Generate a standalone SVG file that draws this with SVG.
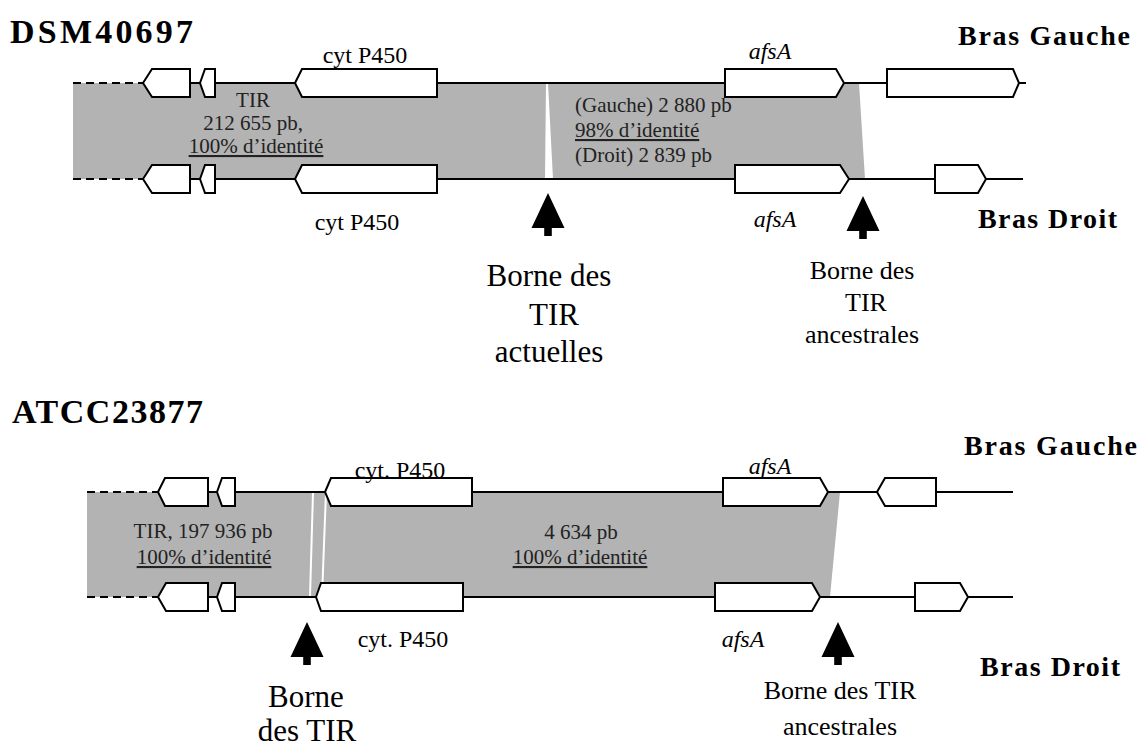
<svg xmlns="http://www.w3.org/2000/svg" width="1141" height="747" viewBox="0 0 1141 747">
<style>
.chr{stroke:#000;stroke-width:2;fill:none}
.dash{stroke:#000;stroke-width:2;stroke-dasharray:8 5;fill:none}
.gene{fill:#fff;stroke:#000;stroke-width:2;stroke-linejoin:miter}
.grey{fill:#b3b3b3}
.gap{stroke:#fff;stroke-width:2}
text{font-family:"Liberation Serif","Times New Roman",serif;fill:#000}
.h{font-weight:bold;font-size:34px}
.arm{font-weight:bold;font-size:28px}
.lab{font-size:21px;fill:#222}
.gl{font-size:24px}
.it{font-style:italic}
.b1{font-size:31px;text-anchor:middle}
.b2{font-size:26px;text-anchor:middle}
.u{text-decoration:underline}
.arrow{fill:#000}
</style>
<defs>
<path id="arr" d="M0,0 L16.5,35 L3.8,35 L3.8,43 L-3.8,43 L-3.8,35 L-16.5,35 Z"/>
</defs>

<g id="titles">
<text class="h" x="10" y="43" textLength="183" lengthAdjust="spacing">DSM40697</text>
<text class="h" x="12" y="423" textLength="191" lengthAdjust="spacing">ATCC23877</text>
<text class="arm" x="958" y="45" textLength="172" lengthAdjust="spacing">Bras Gauche</text>
<text class="arm" x="978" y="228" textLength="139" lengthAdjust="spacing">Bras Droit</text>
<text class="arm" x="964" y="455" textLength="173" lengthAdjust="spacing">Bras Gauche</text>
<text class="arm" x="980" y="676" textLength="140" lengthAdjust="spacing">Bras Droit</text>
</g>

<g id="identity-regions">
<polygon class="grey" points="73,83 859,83 865,179 73,179"/>
<polygon fill="#fff" points="546,83 548,83 553,179 545,179"/>
<polygon class="grey" points="87,492 840,492 830,597 87,597"/>
<line class="gap" x1="313" y1="492" x2="310" y2="597"/>
<line class="gap" x1="326" y1="492" x2="322" y2="597"/>
</g>

<g id="connectors">
<line class="dash" x1="73" y1="83" x2="143" y2="83"/>
<line class="chr" x1="143" y1="83" x2="1026" y2="83"/>
<line class="dash" x1="73" y1="179" x2="143" y2="179"/>
<line class="chr" x1="143" y1="179" x2="1023" y2="179"/>
<line class="dash" x1="87" y1="492" x2="158" y2="492"/>
<line class="chr" x1="158" y1="492" x2="1013" y2="492"/>
<line class="dash" x1="87" y1="597" x2="158" y2="597"/>
<line class="chr" x1="158" y1="597" x2="1013" y2="597"/>
</g>

<g id="dsm-left-arm">
<polygon class="gene" points="143,83 152,69 190,69 190,97 152,97"/>
<polygon class="gene" points="200,83 205,69 215,69 215,97 205,97"/>
<polygon class="gene" points="295,83 302,69 437,69 437,97 302,97"/>
<polygon class="gene" points="725,69 836,69 844,83 836,97 725,97"/>
<polygon class="gene" points="887,69 1013,69 1019,83 1013,97 887,97"/>
</g>

<g id="dsm-right-arm">
<polygon class="gene" points="143,179 152,165 190,165 190,193 152,193"/>
<polygon class="gene" points="200,179 205,165 215,165 215,193 205,193"/>
<polygon class="gene" points="295,179 302,165 437,165 437,193 302,193"/>
<polygon class="gene" points="735,165 840,165 849,179 840,193 735,193"/>
<polygon class="gene" points="935,165 978,165 986,179 978,193 935,193"/>
</g>

<g id="atcc-left-arm">
<polygon class="gene" points="158,492 165,478 208,478 208,506 165,506"/>
<polygon class="gene" points="217,492 222,478 235,478 235,506 222,506"/>
<polygon class="gene" points="325,492 331,478 472,478 472,506 331,506"/>
<polygon class="gene" points="723,478 820,478 828,492 820,506 723,506"/>
<polygon class="gene" points="877,492 885,478 936,478 936,506 885,506"/>
</g>

<g id="atcc-right-arm">
<polygon class="gene" points="158,597 166,583 208,583 208,611 166,611"/>
<polygon class="gene" points="217,597 222,583 235,583 235,611 222,611"/>
<polygon class="gene" points="316,597 321,583 463,583 463,611 321,611"/>
<polygon class="gene" points="715,583 812,583 820,597 812,611 715,611"/>
<polygon class="gene" points="915,583 960,583 968,597 960,611 915,611"/>
</g>

<g id="gene-labels">
<text class="gl" x="365" y="63" text-anchor="middle">cyt P450</text>
<text class="gl it" x="770" y="59" text-anchor="middle">afsA</text>
<text class="gl" x="357" y="230" text-anchor="middle">cyt P450</text>
<text class="gl it" x="775" y="227" text-anchor="middle">afsA</text>
<text class="gl" x="400" y="478" text-anchor="middle">cyt. P450</text>
<text class="gl it" x="770" y="474" text-anchor="middle">afsA</text>
<text class="gl" x="403" y="647" text-anchor="middle">cyt. P450</text>
<text class="gl it" x="743" y="647" text-anchor="middle">afsA</text>
</g>

<g id="identity-labels">
<text class="lab" x="253" y="107" text-anchor="middle">TIR</text>
<text class="lab" x="253" y="130" text-anchor="middle">212 655 pb,</text>
<text class="lab u" x="256" y="153" text-anchor="middle">100% d’identité</text>
<text class="lab" x="575" y="112">(Gauche) 2 880 pb</text>
<text class="lab u" x="575" y="137">98% d’identité</text>
<text class="lab" x="575" y="162">(Droit) 2 839 pb</text>
<text class="lab" x="203" y="538" text-anchor="middle">TIR, 197 936 pb</text>
<text class="lab u" x="204" y="564" text-anchor="middle">100% d’identité</text>
<text class="lab" x="581" y="539" text-anchor="middle">4 634 pb</text>
<text class="lab u" x="580" y="564" text-anchor="middle">100% d’identité</text>
</g>

<g id="boundary-markers">
<use href="#arr" x="548" y="193" class="arrow"/>
<use href="#arr" x="863" y="196" class="arrow"/>
<use href="#arr" x="307" y="622" class="arrow"/>
<use href="#arr" x="838" y="622" class="arrow"/>
</g>

<g id="boundary-labels">
<text class="b1" x="549" y="286">Borne des</text>
<text class="b1" x="554" y="325">TIR</text>
<text class="b1" x="549" y="362">actuelles</text>
<text class="b2" x="862" y="279">Borne des</text>
<text class="b2" x="866" y="311">TIR</text>
<text class="b2" x="862" y="343">ancestrales</text>
<text class="b1" x="306" y="707">Borne</text>
<text class="b1" x="307" y="741">des TIR</text>
<text class="b2" x="840" y="699">Borne des TIR</text>
<text class="b2" x="840" y="735">ancestrales</text>
</g>
</svg>
